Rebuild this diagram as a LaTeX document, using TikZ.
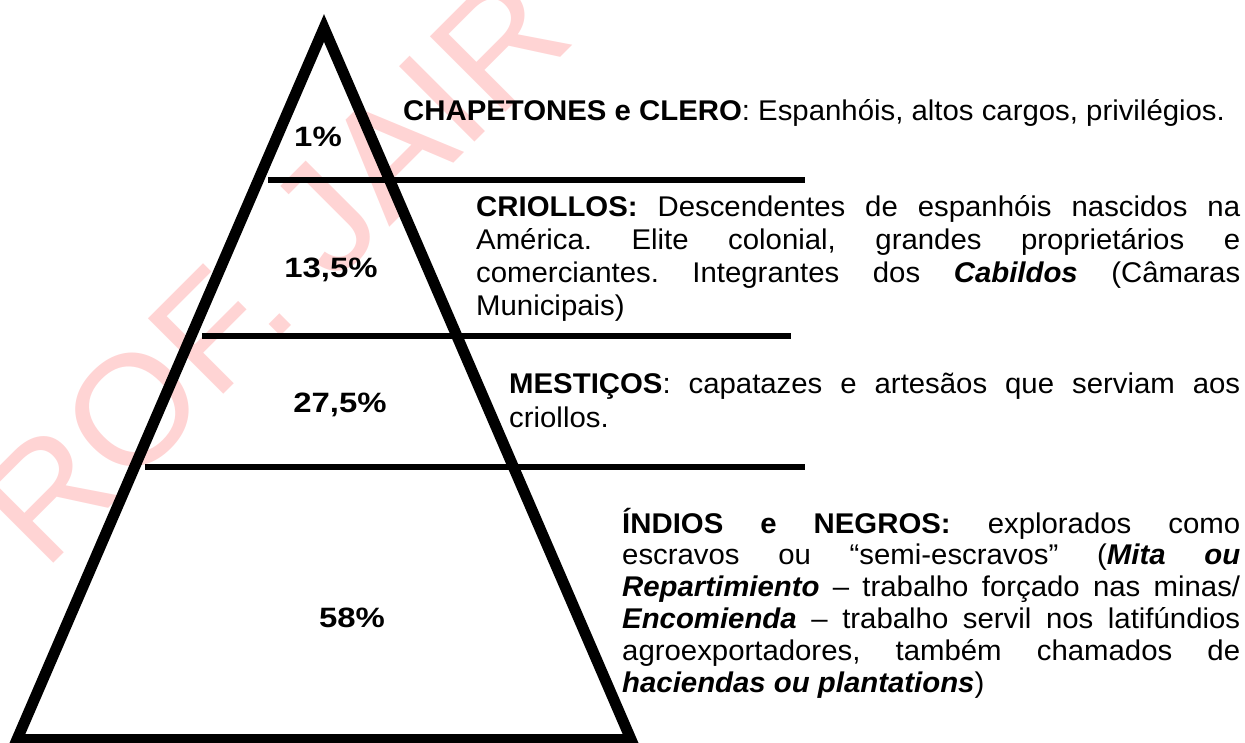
\documentclass[tikz,border=0pt]{standalone}
\usepackage{fontspec}
\setmainfont{Liberation Sans}[FakeStretch=1.03]
\usepackage{graphicx}
\frenchspacing
\begin{document}
\begin{tikzpicture}[x=1pt,y=-1pt,
	pct/.style={font=\fontsize{28}{32}\selectfont\bfseries,inner sep=0pt,anchor=base},
	desc/.style={font=\fontsize{28.5}{#1}\selectfont,inner sep=0pt,anchor=base west,align=justify},
	desc/.default=32.5,
	camada/.style={line width=6pt}]
	\useasboundingbox (0,0) rectangle (1245,742);
	% marca d'agua
	\node[text=red!17,rotate=45,inner sep=0pt,font=\fontsize{155}{155}\selectfont] (marca) at (236,306) {PROF. JAIR};
	% piramide
	\draw[camada] (268,180)--(805,180);
	\draw[camada] (202,335.5)--(791,335.5);
	\draw[camada] (145,466.5)--(805,466.5);
	\draw[line width=11pt,line join=miter] (324,28)--(17,739.5)--(631,739.5)--cycle;
	\path
	(318,146) node[pct] (p1) {\scalebox{1.14}[1]{1\%}}
	(331,277) node[pct] (p2) {\scalebox{1.14}[1]{13,5\%}}
	(340,412) node[pct] (p3) {\scalebox{1.14}[1]{27,5\%}}
	(352,627) node[pct] (p4) {\scalebox{1.14}[1]{58\%}}
	;
	\node[desc] (chapetones) at (403,120) {\textbf{CHAPETONES e CLERO}: Espanhóis, altos cargos, privilégios.};
	\node[desc=33,text width=764pt] (criollos) at (476,216) {\textbf{CRIOLLOS:} Descendentes de espanhóis nascidos na\linebreak América. Elite colonial, grandes proprietários e\linebreak comerciantes. Integrantes dos \textbf{\textit{Cabildos}} (Câmaras\linebreak Municipais)};
	\node[desc=34,text width=731pt] (mesticos) at (509,393) {\textbf{MESTIÇOS}: capatazes e artesãos que serviam aos\linebreak criollos.};
	\node[desc=31.8,text width=618pt] (indios) at (622,533) {\textbf{ÍNDIOS e NEGROS:} explorados como\linebreak escravos ou “semi-escravos” (\textbf{\textit{Mita ou}}\linebreak \textbf{\textit{Repartimiento}} – trabalho forçado nas minas/\linebreak \textbf{\textit{Encomienda}} – trabalho servil nos latifúndios\linebreak agroexportadores, também chamados de\linebreak \textbf{\textit{haciendas ou plantations}})};
	%\draw[red] (0,0) rectangle (1245,742);
\end{tikzpicture}
\end{document}
